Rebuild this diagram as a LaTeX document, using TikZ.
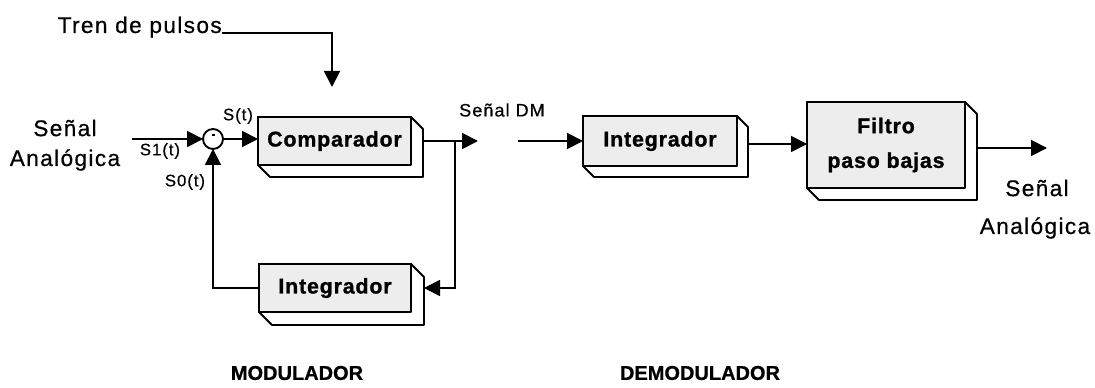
\documentclass[tikz,border=0pt]{standalone}
\usepackage{fontspec}
\setmainfont{Liberation Sans}
\newfontfamily\lblfont{Liberation Sans}[LetterSpace=6,FakeBold=0.6]
\newfontfamily\boxfont{Liberation Sans Bold}[LetterSpace=4,FakeBold=1.2]
\newfontfamily\headfont{Liberation Sans Bold}[FakeBold=0.8]
\usetikzlibrary{arrows.meta,calc}

\tikzset{
  wire/.style={line width=1.4pt},
  arr/.style={wire,-{Triangle[length=12pt,width=12pt]}},
  face/.style={draw,line width=1.4pt,fill=black!7,inner sep=0pt,outer sep=0pt,
    font=\boxfont\fontsize{16}{18}\selectfont,align=center},
  side/.style={draw,line width=1.4pt,fill=white,line join=round},
  lbl/.style={font=\lblfont\fontsize{17}{20}\selectfont,inner sep=0pt},
  sig/.style={font=\lblfont\fontsize{12.5}{14}\selectfont,inner sep=0pt},
  heading/.style={font=\headfont\fontsize{15}{18}\selectfont,inner sep=0pt},
  summer/.style={draw,circle,line width=1.4pt,minimum size=15pt,inner sep=0pt,outer sep=0pt},
}

% right and bottom faces of a block: node name, depth
\newcommand\blockdepth[2]{%
  \draw[side] (#1.north east) -- ($(#1.north east)+(#2,#2)$)
    -- ($(#1.south east)+(#2,#2)$) -- ($(#1.south west)+(#2,#2)$)
    -- (#1.south west) -- (#1.south east) -- cycle;}

\begin{document}
\begin{tikzpicture}[x=0.75pt,y=-0.75pt]
\useasboundingbox (0,0) rectangle (1095,388);

% ---- modulator ----
\node[face,minimum width=114.75pt,minimum height=36pt] (comp) at (334.5,141) {Comparador};
\blockdepth{comp}{12}
\node[face,minimum width=114pt,minimum height=36pt] (fb) at (335,288) {Integrador};
\blockdepth{fb}{13}
\node[summer] (sum) at (213,139) {};
\draw[line width=1.2pt] ($(sum.center)+(-1.5,-4)$) -- ($(sum.center)+(1.5,-4)$);

\node[lbl,anchor=base east] (tren) at (222,33) {Tren de pulsos};
\coordinate (tp) at (332,87);
\draw[arr] (tren.base east) -| (tp);

\node[lbl] (sa1) at (65,128) {Señal};
\node[lbl] (sa2) at (65,160) {Analógica};
\coordinate (in) at (132,139);
\draw[arr] (in) -- (sum.west);
\node[sig] (s1) at (160,151) {S1(t)};
\node[sig] (s) at (238,116) {S(t)};
\node[sig] (s0) at (185,182) {S0(t)};
\draw[arr] (sum.east) -- (sum.east -| comp.west);

\coordinate (cout) at ($(comp.east)+(12,0)$);
\coordinate (j) at (455,141);
\coordinate (dm) at (478,141);
\coordinate (fbin) at ($(fb.east)+(13,0)$);
\draw[wire] (cout) -- (j);
\draw[arr] (j) -- (dm);
\draw[arr] (j) |- (fbin);
\draw[arr] (fb.west) -| (sum.south);

\node[sig,font=\lblfont\fontsize{13.5}{15}\selectfont] (dmlbl) at (502,110) {Señal DM};

% ---- demodulator ----
\node[face,minimum width=115.5pt,minimum height=37.5pt] (dint) at (660,141) {Integrador};
\blockdepth{dint}{11}
\node[face,minimum width=118.5pt,minimum height=64.5pt] (filt) at (886,145) {Filtro\\[8pt]paso bajas};
\blockdepth{filt}{12}

\coordinate (dmin) at (518,141);
\draw[arr] (dmin) -- (dint.west);
\coordinate (d2) at ($(dint.east)+(11,3)$);
\draw[arr] (d2) -- (d2 -| filt.west);
\coordinate (f2) at ($(filt.east)+(12,3)$);
\coordinate (out) at (1047,148);
\draw[arr] (f2) -- (out);
\node[lbl] (sb1) at (1037,188) {Señal};
\node[lbl] (sb2) at (1035,228) {Analógica};

\node[heading] (mod) at (297,373) {MODULADOR};
\node[heading] (demod) at (700,373) {DEMODULADOR};
\end{tikzpicture}
\end{document}
